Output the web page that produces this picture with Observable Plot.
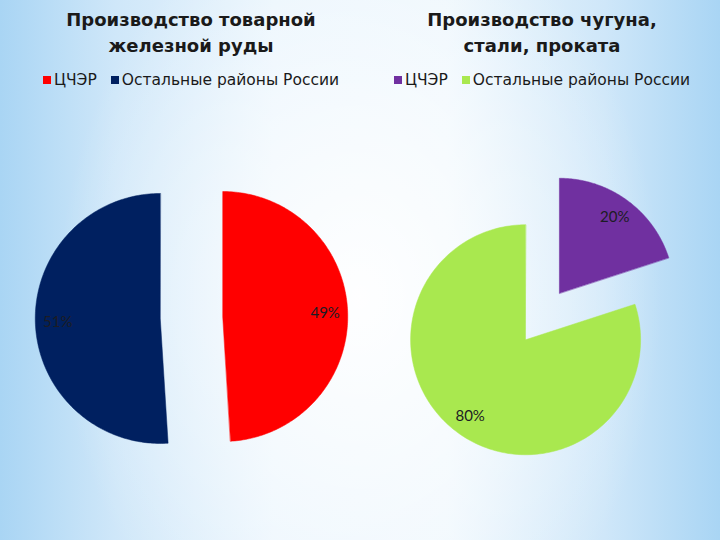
<!DOCTYPE html>
<html>
<head>
<meta charset="utf-8">
<script src="https://cdn.jsdelivr.net/npm/d3@7"></script>
<script src="https://cdn.jsdelivr.net/npm/@observablehq/plot@0.6"></script>
<style>
  html, body { margin: 0; padding: 0; }
  body {
    width: 720px; height: 540px; overflow: hidden; position: relative;
    background:
      radial-gradient(ellipse 42% 75% at 50% 55%, rgba(255,255,255,0.95), rgba(255,255,255,0) 100%),
      linear-gradient(90deg, #a9d5f4 0%, #cfe7f9 16%, #eaf5fd 38%, #eef7fd 62%, #cfe7f9 84%, #a9d5f4 100%);
  }
  .title {
    position: absolute; top: 7px; width: 360px; text-align: center;
    font-family: "DejaVu Sans", sans-serif; font-weight: bold; font-size: 18px;
    line-height: 26px; color: #1a1a1a; white-space: pre-line;
  }
  .legend {
    position: absolute; top: 71px; width: 360px; display: flex; justify-content: center;
    font-family: "DejaVu Sans", sans-serif; font-size: 15.5px; line-height: 18px; color: #1a1a1a;
  }
  .legend .item { display: flex; align-items: center; margin: 0 7px; }
  .legend .sw { width: 8px; height: 8px; margin-right: 3px; }
  .chart { position: absolute; }
</style>
</head>
<body>
<script>
// ---- data ----
const titles = ["Производство товарной\nжелезной руды", "Производство чугуна,\nстали, проката"];
const categories = ["ЦЧЭР", "Остальные районы России"];
const oreShares = [49, 51];      // %
const steelShares = [20, 80];    // %
const oreColors = ["#ff0000", "#002060"];
const steelColors = ["#7030a0", "#a9e84f"];

// ---- layout (styles) ----
const charts = [
  {title: titles[0], values: oreShares, colors: oreColors, cx: 191, cy: 317, radius: 125},
  {title: titles[1], values: steelShares, colors: steelColors, cx: 542, cy: 316, radius: 115}
];
const explode = 0.25;
const labelRadius = 0.82;
const box = 360;

function pie(values, colors) {
  const total = d3.sum(values);
  let acc = 0;
  const polys = [], labels = [];
  values.forEach((v, i) => {
    const a0 = acc / total * 2 * Math.PI;
    acc += v;
    const a1 = acc / total * 2 * Math.PI;
    const mid = (a0 + a1) / 2;
    const ex = explode * Math.sin(mid), ey = explode * Math.cos(mid);
    const pts = [{x: ex, y: ey, name: categories[i]}];
    const n = 180;
    for (let k = 0; k <= n; k++) {
      const t = a0 + (a1 - a0) * k / n;
      pts.push({x: ex + Math.sin(t), y: ey + Math.cos(t), name: categories[i]});
    }
    polys.push({pts, color: colors[i]});
    labels.push({x: ex + labelRadius * Math.sin(mid), y: ey + labelRadius * Math.cos(mid), text: v + "%"});
  });
  return {polys, labels};
}

charts.forEach((c, ci) => {
  const colLeft = c.cx - box / 2;
  const t = document.createElement("div");
  t.className = "title";
  t.style.left = colLeft + "px";
  t.textContent = c.title;
  document.body.appendChild(t);

  const lg = document.createElement("div");
  lg.className = "legend";
  lg.style.left = colLeft + "px";
  categories.forEach((name, i) => {
    const it = document.createElement("span");
    it.className = "item";
    const sw = document.createElement("span");
    sw.className = "sw";
    sw.style.background = c.colors[i];
    it.appendChild(sw);
    it.appendChild(document.createTextNode(name));
    lg.appendChild(it);
  });
  document.body.appendChild(lg);

  const {polys, labels} = pie(c.values, c.colors);
  const half = box / 2 / c.radius;
  const plot = Plot.plot({
    width: box, height: box, margin: 0,
    style: {background: "transparent", overflow: "visible"},
    x: {domain: [-half, half], axis: null},
    y: {domain: [-half, half], axis: null},
    marks: [
      ...polys.map(p => Plot.line(p.pts, {x: "x", y: "y", fill: p.color, stroke: p.color, strokeWidth: 0.5, curve: "linear-closed"})),
      Plot.text(labels, {x: "x", y: "y", text: "text", fill: "#1c1c24", fontSize: 15,
        fontFamily: "Lato, 'Open Sans', sans-serif"})
    ]
  });
  plot.classList.add("chart");
  plot.style.left = colLeft + "px";
  plot.style.top = (c.cy - box / 2) + "px";
  document.body.appendChild(plot);
});
</script>
</body>
</html>
